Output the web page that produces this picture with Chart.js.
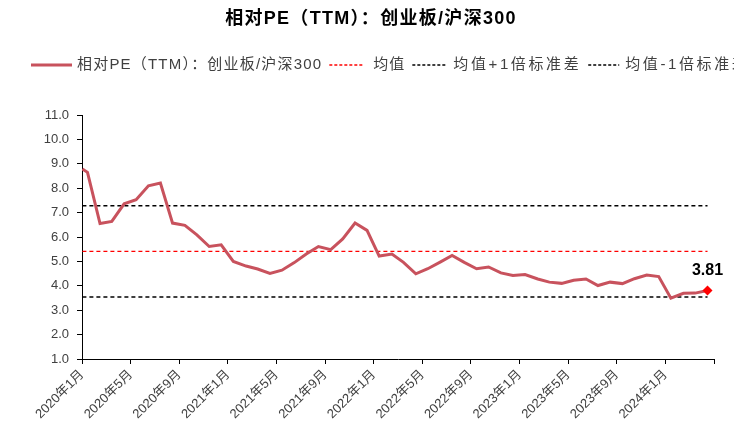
<!DOCTYPE html>
<html lang="zh-CN">
<head>
<meta charset="utf-8">
<title>相对PE（TTM）：创业板/沪深300</title>
<script src="https://cdn.jsdelivr.net/npm/chart.js@4.4.1/dist/chart.umd.min.js"></script>
<style>
  html, body { margin: 0; padding: 0; background: #fff; }
  #wrap { position: relative; width: 734px; height: 421px; }
</style>
</head>
<body>
<div id="wrap"><canvas id="peChart"></canvas></div>
<script>
// ============================
// Data
// ============================
const TITLE = "相对PE（TTM）：创业板/沪深300";
const SERIES_NAME = "相对PE（TTM）：创业板/沪深300";

const dates = [
    "2020-01-02",
    "2020-01-15", "2020-02-15", "2020-03-15", "2020-04-15", "2020-05-15", "2020-06-15",
    "2020-07-15", "2020-08-15", "2020-09-15", "2020-10-15", "2020-11-15", "2020-12-15",
    "2021-01-15", "2021-02-15", "2021-03-15", "2021-04-15", "2021-05-15", "2021-06-15",
    "2021-07-15", "2021-08-15", "2021-09-15", "2021-10-15", "2021-11-15", "2021-12-15",
    "2022-01-15", "2022-02-15", "2022-03-15", "2022-04-15", "2022-05-15", "2022-06-15",
    "2022-07-15", "2022-08-15", "2022-09-15", "2022-10-15", "2022-11-15", "2022-12-15",
    "2023-01-15", "2023-02-15", "2023-03-15", "2023-04-15", "2023-05-15", "2023-06-15",
    "2023-07-15", "2023-08-15", "2023-09-15", "2023-10-15", "2023-11-15", "2023-12-15",
    "2024-01-15", "2024-02-15", "2024-03-15", "2024-04-15"
];

const relPE = [
    8.79,
    8.65, 6.55, 6.64, 7.36, 7.53, 8.10,
    8.21, 6.57, 6.48, 6.09, 5.61, 5.68,
    5.00, 4.81, 4.69, 4.51, 4.64, 4.95,
    5.30, 5.61, 5.48, 5.92, 6.57, 6.27,
    5.22, 5.30, 4.96, 4.49, 4.70, 4.97,
    5.24, 4.96, 4.70, 4.77, 4.53, 4.42,
    4.46, 4.28, 4.15, 4.10, 4.23, 4.28,
    4.01, 4.15, 4.09, 4.29, 4.44, 4.38,
    3.49, 3.69, 3.70, 3.81
];

const MEAN = 5.41;
const MEAN_PLUS_1SD = 7.28;
const MEAN_MINUS_1SD = 3.54;

const tickLabels = [
    "2020年1月", "2020年5月", "2020年9月", "2021年1月", "2021年5月", "2021年9月",
    "2022年1月", "2022年5月", "2022年9月", "2023年1月", "2023年5月", "2023年9月",
    "2024年1月", ""
];

// ============================
// Style
// ============================
const FONT = "'Liberation Sans', Arial, 'Noto Sans CJK SC', sans-serif";
const LINE_COLOR = "#C8525D";
const TEXT_COLOR = "#404040";

// month offset from 2020-01 (date axis, one unit = one month)
function monthPos(s) {
    const [y, m, d] = s.split("-").map(Number);
    const days = new Date(y, m, 0).getDate();
    return (y - 2020) * 12 + (m - 1) + (d - 1) / days;
}

const xFirst = monthPos(dates[0]);
const xLast = monthPos(dates[dates.length - 1]);
const lineData = dates.map((d, i) => ({ x: monthPos(d), y: relPE[i] }));
function flat(v) { return [{ x: xFirst, y: v }, { x: xLast, y: v }]; }

const legendItems = [
    { text: SERIES_NAME, color: LINE_COLOR, width: 3, dash: [], len: 41, gap: 5, ls: "1.2px" },
    { text: "均值", color: "#FF0000", width: 1.5, dash: [3, 2], len: 33, gap: 11, ls: "1px" },
    { text: "均值+1倍标准差", color: "#000000", width: 1.5, dash: [3, 2], len: 33, gap: 8, ls: "2.6px" },
    { text: "均值-1倍标准差", color: "#000000", width: 1.5, dash: [3, 2], len: 31, gap: 6, ls: "2.6px" }
];

// title + legend + last value label
const decorPlugin = {
    id: "decor",
    afterDraw(chart) {
        const ctx = chart.ctx;
        ctx.save();

        ctx.fillStyle = "#000";
        ctx.font = `bold 18px ${FONT}`;
        ctx.letterSpacing = "1.3px";
        ctx.textAlign = "center";
        ctx.textBaseline = "middle";
        ctx.fillText(TITLE, 371, 19);

        let x = 31;
        const y = 65;
        ctx.font = `15px ${FONT}`;
        ctx.textAlign = "left";
        for (const it of legendItems) {
            ctx.beginPath();
            ctx.strokeStyle = it.color;
            ctx.lineWidth = it.width;
            ctx.setLineDash(it.dash);
            ctx.moveTo(x, y);
            ctx.lineTo(x + it.len, y);
            ctx.stroke();
            x += it.len + it.gap;
            ctx.letterSpacing = it.ls;
            ctx.fillStyle = TEXT_COLOR;
            ctx.fillText(it.text, x, y);
            x += ctx.measureText(it.text).width + 7;
        }
        ctx.setLineDash([]);
        ctx.letterSpacing = "0px";

        const meta = chart.getDatasetMeta(0);
        const pt = meta.data[meta.data.length - 1];
        if (pt) {
            ctx.fillStyle = "#000";
            ctx.font = `bold 16px ${FONT}`;
            ctx.textAlign = "center";
            ctx.fillText(relPE[relPE.length - 1].toFixed(2), pt.x, pt.y - 20);
        }
        ctx.restore();
    }
};

const lastIdx = relPE.length - 1;

new Chart(document.getElementById("peChart"), {
    type: "line",
    data: {
        datasets: [
            {
                label: SERIES_NAME, data: lineData,
                borderColor: LINE_COLOR, borderWidth: 3, tension: 0,
                pointStyle: "rectRot",
                pointRadius: (c) => c.dataIndex === lastIdx ? 5 : 0,
                pointBackgroundColor: "#FF0000", pointBorderColor: "#FF0000", pointBorderWidth: 0
            },
            { label: "均值", data: flat(MEAN), borderColor: "#FF0000", borderWidth: 1.3, borderDash: [4, 3], pointRadius: 0 },
            { label: "均值+1倍标准差", data: flat(MEAN_PLUS_1SD), borderColor: "#000", borderWidth: 1.3, borderDash: [4, 3], pointRadius: 0 },
            { label: "均值-1倍标准差", data: flat(MEAN_MINUS_1SD), borderColor: "#000", borderWidth: 1.3, borderDash: [4, 3], pointRadius: 0 }
        ]
    },
    options: {
        responsive: true,
        maintainAspectRatio: false,
        animation: false,
        layout: { padding: { top: 115, right: 20, left: 0, bottom: 0 } },
        plugins: { legend: { display: false }, title: { display: false }, tooltip: { enabled: false } },
        scales: {
            x: {
                type: "linear", min: 0, max: 52,
                border: { color: "#000", width: 1 },
                grid: { drawOnChartArea: false, color: "#000", tickLength: 5 },
                ticks: {
                    stepSize: 4, autoSkip: false, minRotation: 45, maxRotation: 45, padding: 3,
                    color: TEXT_COLOR, font: { family: FONT, size: 13 },
                    callback: (v, i) => tickLabels[i] ?? ""
                },
                afterFit: (s) => { s.height = 62; }
            },
            y: {
                min: 1, max: 11,
                border: { color: "#000", width: 1 },
                grid: { drawOnChartArea: false, color: "#000", tickLength: 5 },
                ticks: {
                    stepSize: 1, padding: 8,
                    color: TEXT_COLOR, font: { family: FONT, size: 13 },
                    callback: (v) => Number(v).toFixed(1)
                },
                afterFit: (s) => { s.width = 82; }
            }
        }
    },
    plugins: [decorPlugin]
});
</script>
</body>
</html>
